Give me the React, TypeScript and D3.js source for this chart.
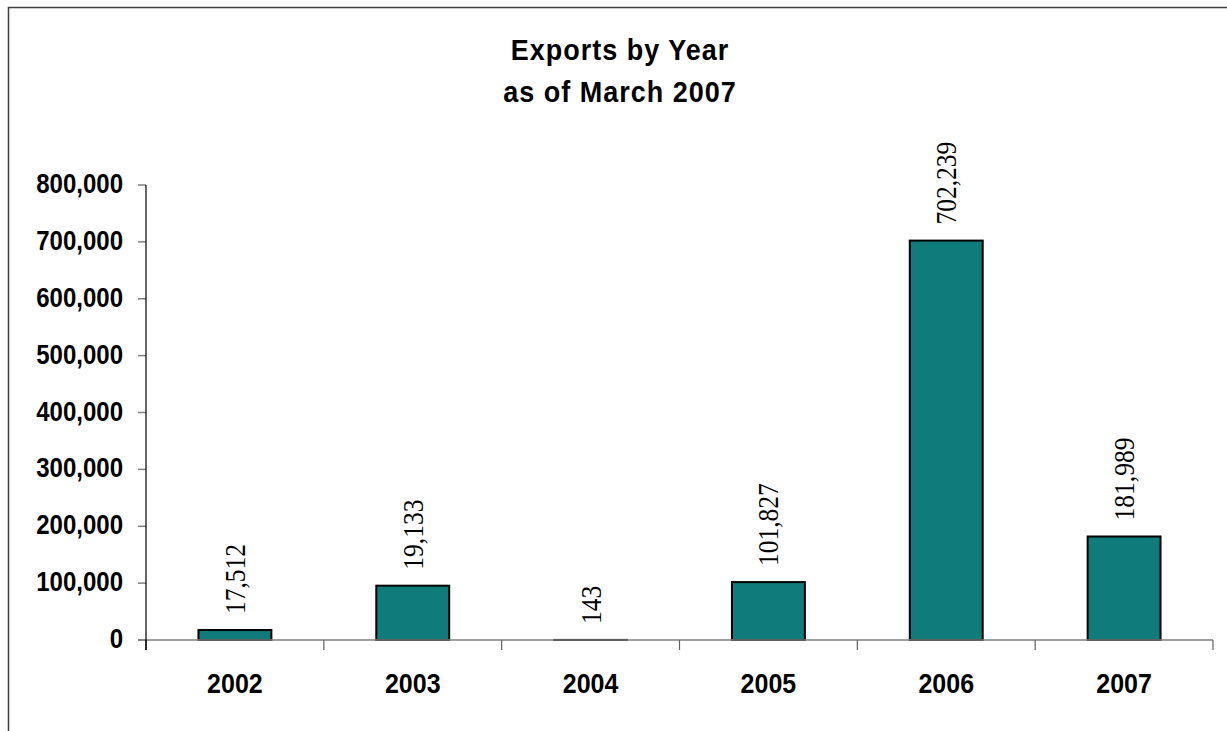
import React from "react";
import * as d3 from "d3";

const years = ["2002", "2003", "2004", "2005", "2006", "2007"];
const exportValues = [17512, 95500, 143, 101827, 702239, 181989];
const valueLabels = ["17,512", "19,133", "143", "101,827", "702,239", "181,989"];
const yTicks = [0, 100000, 200000, 300000, 400000, 500000, 600000, 700000, 800000];
const titleLines = ["Exports by Year", "as of March 2007"];

const W = 1227;
const H = 731;
const plotLeft = 146;
const plotRight = 1213;
const plotTop = 185;
const plotBottom = 640;

export default function App() {
  const x = d3
    .scaleBand<string>()
    .domain(years)
    .range([plotLeft, plotRight])
    .paddingInner(0.59)
    .paddingOuter(0.295);
  const y = d3.scaleLinear().domain([0, 800000]).range([plotBottom, plotTop]);
  const fmt = d3.format(",");
  const step = x.step();
  const catTicks = d3.range(years.length + 1).map((i) => plotLeft + i * step);
  const sans = "'Liberation Sans', Arial, sans-serif";
  const serif = "'Liberation Serif', 'Times New Roman', serif";

  return (
    <svg
      width={W}
      height={H}
      style={{ position: "absolute", left: 0, top: 0, background: "#fff" }}
    >
      <rect x={0} y={0} width={W} height={H} fill="#fff" />
      <rect x={8.5} y={7.5} width={1232} height={760} fill="none" stroke="#404040" strokeWidth={1.5} />

      {titleLines.map((t, i) => (
        <text
          key={t}
          transform={`translate(620,${60 + i * 42}) scale(1,1.12)`}
          textAnchor="middle"
          fontFamily={sans}
          fontWeight="bold"
          fontSize={27}
          letterSpacing={1}
          fill="#000"
        >
          {t}
        </text>
      ))}

      {/* y axis ticks and labels */}
      {yTicks.map((t) => (
        <g key={t}>
          <line x1={138} x2={plotLeft} y1={y(t)} y2={y(t)} stroke="#808080" strokeWidth={1.5} />
          <text
            transform={`translate(123,${y(t) + 8}) scale(1,1.15)`}
            textAnchor="end"
            fontFamily={sans}
            fontWeight="bold"
            fontSize={24}
            fill="#000"
          >
            {fmt(t)}
          </text>
        </g>
      ))}

      {/* bars */}
      {years.map((yr, i) => (
        <rect
          key={yr}
          x={x(yr)!}
          y={y(exportValues[i])}
          width={x.bandwidth()}
          height={plotBottom - y(exportValues[i])}
          fill="#0f7b7a"
          stroke="#000"
          strokeWidth={2}
        />
      ))}

      {/* x axis */}
      <line x1={138} x2={plotRight} y1={plotBottom} y2={plotBottom} stroke="#808080" strokeWidth={1.5} />
      {catTicks.map((cx, i) => (
        <line
          key={i}
          x1={cx}
          x2={cx}
          y1={plotBottom}
          y2={650}
          stroke={i === 0 ? "#000" : "#606060"}
          strokeWidth={1.2}
        />
      ))}
      <line x1={plotLeft} x2={plotLeft} y1={plotTop} y2={650} stroke="#000" strokeWidth={1.2} />

      {/* x labels */}
      {years.map((yr) => (
        <text
          key={yr}
          transform={`translate(${x(yr)! + x.bandwidth() / 2},693) scale(1,1.1)`}
          textAnchor="middle"
          fontFamily={sans}
          fontWeight="bold"
          fontSize={25}
          fill="#000"
        >
          {yr}
        </text>
      ))}

      {/* value labels */}
      {years.map((yr, i) => (
        <text
          key={"v" + yr}
          transform={`translate(${x(yr)! + x.bandwidth() / 2 + 10},${y(exportValues[i]) - 16}) rotate(-90) scale(0.88,1)`}
          textAnchor="start"
          fontFamily={serif}
          fontSize={29}
          fill="#000"
        >
          {valueLabels[i]}
        </text>
      ))}
    </svg>
  );
}
